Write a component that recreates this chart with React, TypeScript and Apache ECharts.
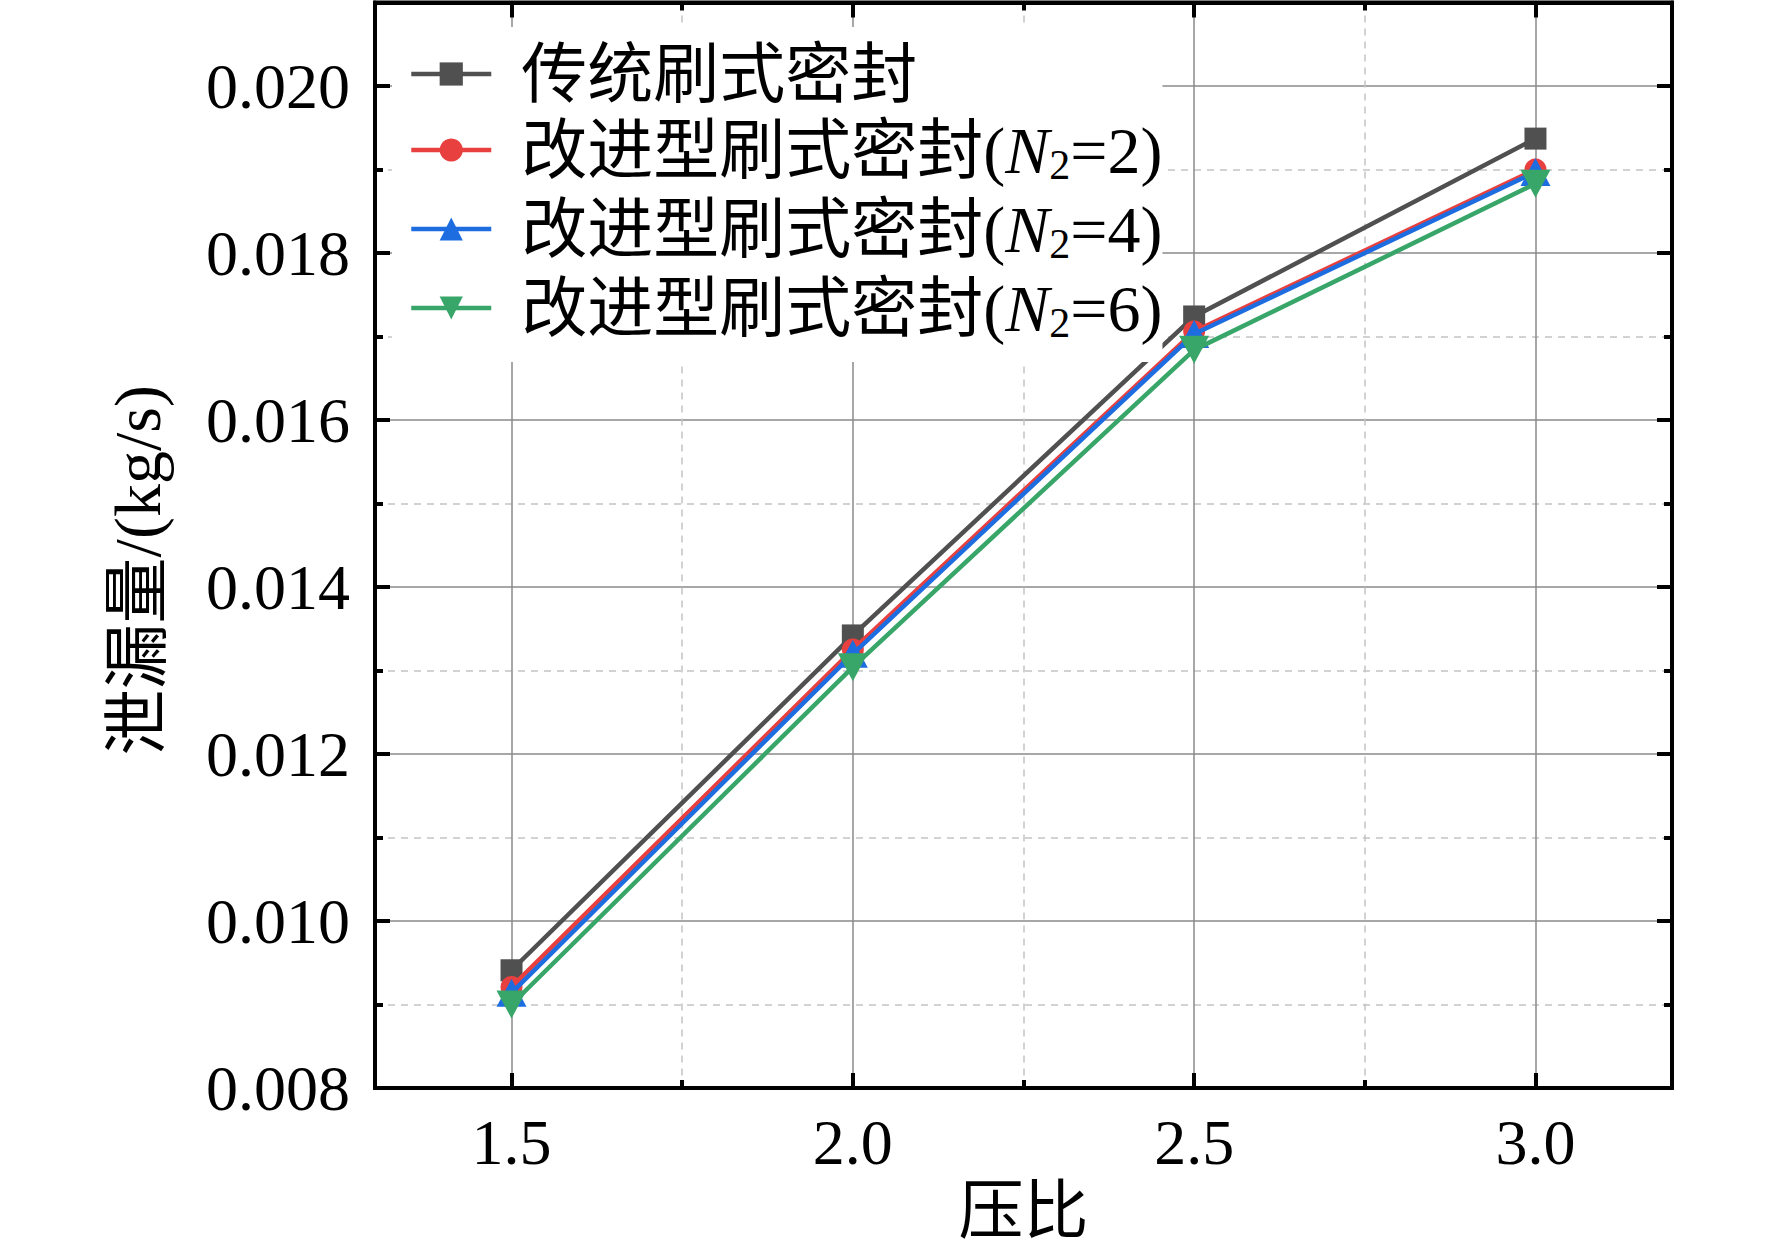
import React, { useEffect, useRef } from 'react';
import * as echarts from 'echarts';

// ---- data ----
const xValues = [1.5, 2.0, 2.5, 3.0];
const conventionalSeal = [0.00941, 0.01342, 0.01724, 0.01937];
const improvedN2 = [0.00921, 0.01325, 0.01706, 0.019];
const improvedN4 = [0.00914, 0.0132, 0.01703, 0.01897];
const improvedN6 = [0.009, 0.01304, 0.01684, 0.01883];

const seriesNames = ['传统刷式密封', '改进型刷式密封(N2=2)', '改进型刷式密封(N2=4)', '改进型刷式密封(N2=6)'];
const seriesValues = [conventionalSeal, improvedN2, improvedN4, improvedN6];

const xMajorTicks = [1.5, 2.0, 2.5, 3.0];
const xMinorTicks = [1.75, 2.25, 2.75];
const yMajorTicks = [0.008, 0.01, 0.012, 0.014, 0.016, 0.018, 0.02];
const yMinorTicks = [0.009, 0.011, 0.013, 0.015, 0.017, 0.019];

const xAxisTitle = '压比';
const yAxisTitle = '泄漏量/(kg/s)';

// ---- styles ----
const SERIF = "'Liberation Serif', 'Times New Roman', 'Noto Sans CJK SC', serif";
const colors = ['#505050', '#e8403f', '#1d6de0', '#38a669'];
const symbols = ['rect', 'circle', 'triangle', 'path://M0,0L2,0L1,2Z'];
const symbolSizes: any[] = [22, 22, [30, 28], [30, 28]];

const X_MIN = 1.3, X_MAX = 3.2, Y_MIN = 0.008, Y_MAX = 0.021;

function legendLabel(name: string): string {
  const m = name.match(/^(.*)\(N2=(\d)\)$/);
  if (!m) return `{f|${name}}`;
  return `{f|${m[1]}(}{i|N}{s|2}{t|=${m[2]})}`;
}

export default function App() {
  const ref = useRef<HTMLDivElement>(null);
  useEffect(() => {
    if (!ref.current) return;
    const chart = echarts.init(ref.current, null, { renderer: 'svg' });

    const majorTick = { show: true, inside: true, length: 15, lineStyle: { color: '#000', width: 4 } };
    const minorTick = { show: true, inside: true, length: 8, lineStyle: { color: '#000', width: 4 } };
    const solidSplit = { show: true, lineStyle: { color: '#8a8a8a', width: 1.5, type: 'solid' } };
    const dashSplit = { show: true, lineStyle: { color: '#c4c4c4', width: 1.5, type: [7, 6] } };
    const blackLine = { show: true, onZero: false, lineStyle: { color: '#000', width: 4 } };

    const xBase = { type: 'value', min: X_MIN, max: X_MAX, gridIndex: 0 };
    const yBase = { type: 'value', min: Y_MIN, max: Y_MAX, gridIndex: 0 };

    chart.setOption({
      animation: false,
      backgroundColor: '#fff',
      grid: {
        left: 375, right: 100, top: 2.5, bottom: 166,
        show: true, borderColor: '#000', borderWidth: 4, backgroundColor: 'transparent',
      },
      legend: {
        orient: 'vertical',
        left: 392,
        top: 27,
        backgroundColor: '#fff',
        padding: [14, 0, 18, 17],
        itemWidth: 80,
        itemHeight: 29,
        itemGap: 10,
        data: seriesNames,
        formatter: legendLabel,
        lineStyle: { width: 4.5 },
        textStyle: {
          color: '#000',
          rich: {
            f: { fontFamily: SERIF, fontSize: 66, lineHeight: 72, color: '#000', padding: [0, 0, 0, 25] },
            t: { fontFamily: SERIF, fontSize: 66, lineHeight: 72, color: '#000' },
            i: { fontFamily: SERIF, fontSize: 66, lineHeight: 72, fontStyle: 'italic', color: '#000' },
            s: { fontFamily: SERIF, fontSize: 42, lineHeight: 30, verticalAlign: 'bottom', color: '#000' },
          },
        },
      },
      xAxis: [
        {
          ...xBase,
          position: 'bottom',
          name: xAxisTitle,
          nameLocation: 'middle',
          nameGap: 90,
          nameTextStyle: { fontFamily: SERIF, fontSize: 65, color: '#000' },
          axisLine: blackLine,
          axisTick: { ...majorTick, customValues: xMajorTicks },
          axisLabel: {
            show: true, customValues: xMajorTicks, margin: 22,
            fontFamily: SERIF, fontSize: 64, color: '#000',
            formatter: (v: number) => v.toFixed(1),
          },
          splitLine: solidSplit,
        },
        {
          ...xBase,
          position: 'bottom',
          axisLine: { show: false, onZero: false },
          axisTick: { ...minorTick, customValues: xMinorTicks },
          axisLabel: { show: false },
          splitLine: dashSplit,
        },
        {
          ...xBase,
          position: 'top',
          axisLine: blackLine,
          axisTick: { ...majorTick, customValues: xMajorTicks },
          axisLabel: { show: false },
          splitLine: { show: false },
        },
        {
          ...xBase,
          position: 'top',
          axisLine: { show: false, onZero: false },
          axisTick: { ...minorTick, customValues: xMinorTicks },
          axisLabel: { show: false },
          splitLine: { show: false },
        },
      ],
      yAxis: [
        {
          ...yBase,
          position: 'left',
          name: yAxisTitle,
          nameLocation: 'middle',
          nameGap: 205,
          nameTextStyle: { fontFamily: SERIF, fontSize: 66, color: '#000', padding: [0, 50, 0, 0] },
          axisLine: blackLine,
          axisTick: { ...majorTick, customValues: yMajorTicks },
          axisLabel: {
            show: true, customValues: yMajorTicks, margin: 25,
            fontFamily: SERIF, fontSize: 64, color: '#000',
            formatter: (v: number) => v.toFixed(3),
          },
          splitLine: solidSplit,
        },
        {
          ...yBase,
          position: 'left',
          axisLine: { show: false, onZero: false },
          axisTick: { ...minorTick, customValues: yMinorTicks },
          axisLabel: { show: false },
          splitLine: dashSplit,
        },
        {
          ...yBase,
          position: 'right',
          axisLine: blackLine,
          axisTick: { ...majorTick, customValues: yMajorTicks },
          axisLabel: { show: false },
          splitLine: { show: false },
        },
        {
          ...yBase,
          position: 'right',
          axisLine: { show: false, onZero: false },
          axisTick: { ...minorTick, customValues: yMinorTicks },
          axisLabel: { show: false },
          splitLine: { show: false },
        },
      ],
      series: seriesNames.map((name, k) => ({
        name,
        type: 'line',
        xAxisIndex: 0,
        yAxisIndex: 0,
        data: xValues.map((x, j) => [x, seriesValues[k][j]]),
        symbol: symbols[k],
        symbolSize: symbolSizes[k],
        showAllSymbol: true,
        color: colors[k],
        lineStyle: { color: colors[k], width: 4.5 },
        itemStyle: { color: colors[k] },
        z: 3 + k,
      })),
    });

    return () => chart.dispose();
  }, []);

  return (
    <div
      ref={ref}
      style={{ position: 'absolute', left: 0, top: 0, width: 1772, height: 1254 }}
    />
  );
}
